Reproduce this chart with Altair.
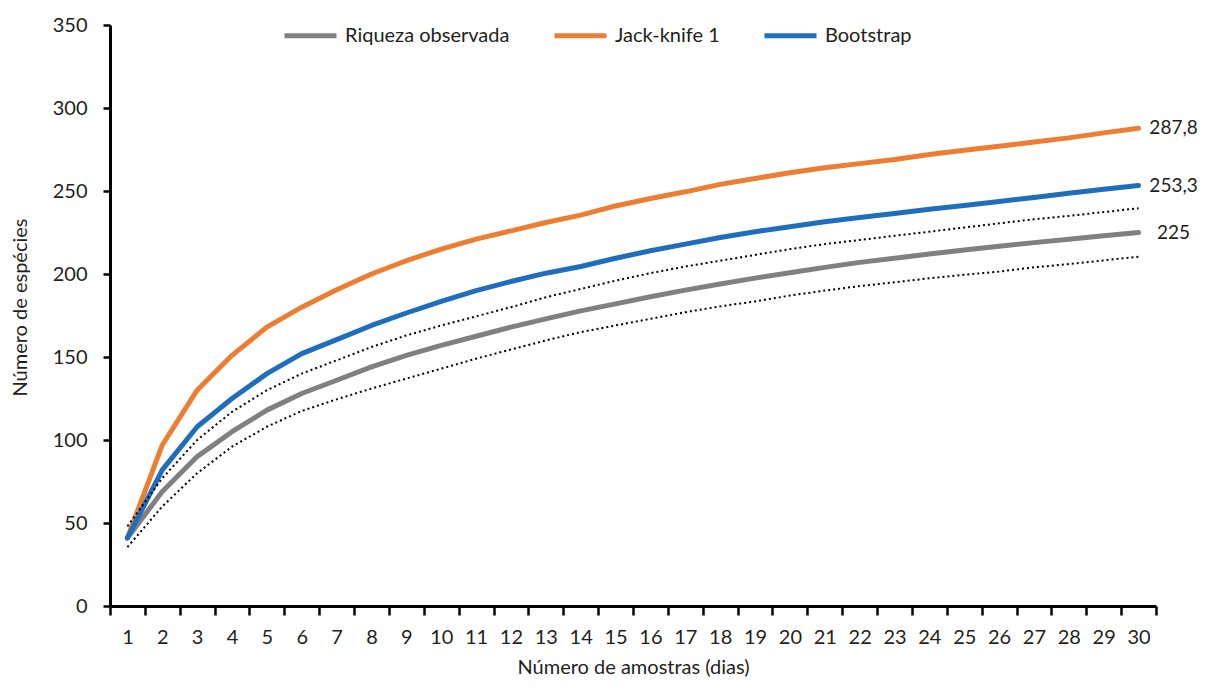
import altair as alt
import pandas as pd

# ---- data ----
dias = list(range(1, 31))
riqueza = [41, 69, 90, 105, 118, 128, 136, 144, 151, 157, 162.5, 168, 173, 177.8, 182,
           186.3, 190.3, 194, 197.5, 200.8, 204, 207, 209.5, 212, 214.5, 216.7, 218.9, 221, 223, 225]
jackknife = [41, 97, 130, 151, 168, 180, 190.5, 200, 208, 215, 221, 226, 231, 235.5, 241,
             245.5, 249.5, 254, 257.5, 261, 264, 266.5, 269, 272, 274.5, 277, 279.5, 282, 285, 287.8]
bootstrap = [41, 82, 108, 125, 140, 152, 160.5, 169, 176.5, 183.5, 190, 195.5, 200.5, 204.5, 209.5,
             214, 218, 222, 225.5, 228.5, 231.5, 234, 236.5, 239, 241.3, 243.7, 246.1, 248.6, 251, 253.3]
ic_superior = [48, 77, 100, 117, 130, 140, 148, 156, 163, 169, 174.5, 180, 186, 191, 196,
               200.5, 204.5, 208, 211.5, 215, 218, 220.5, 223, 225.5, 228, 230.5, 233, 235, 237.3, 239.6]
ic_inferior = [35.5, 60, 80, 96, 108, 117.5, 124.5, 131, 137, 143, 149, 154.5, 160, 165, 169,
               173, 177, 180.5, 183.5, 187, 190, 192.7, 195, 197.4, 199.5, 201.5, 204, 206, 208.2, 210.4]

series_names = ["Riqueza observada", "Jack-knife 1", "Bootstrap"]
series_colors = ["#808080", "#ED7D31", "#1F6EBD"]
series_values = [riqueza, jackknife, bootstrap]
end_labels = ["225", "287,8", "253,3"]

FONT = "Lato"
TXT = "#231F20"

rows = []
for name, vals in zip(series_names, series_values):
    for d, v in zip(dias, vals):
        rows.append({"dia": d, "valor": v, "serie": name})
df = pd.DataFrame(rows)

ci_rows = []
for lim, vals in (("sup", ic_superior), ("inf", ic_inferior)):
    for d, v in zip(dias, vals):
        ci_rows.append({"dia": d, "valor": v, "limite": lim})
df_ci = pd.DataFrame(ci_rows)

df_end = pd.DataFrame({
    "dia": [dias[-1]] * 3,
    "valor": [vals[-1] for vals in series_values],
    "label": end_labels,
})

x_enc = alt.X(
    "dia:Q",
    scale=alt.Scale(domain=[0.5, 30.5], nice=False, zero=False),
    axis=alt.Axis(
        values=[k - 0.5 for k in range(1, 32)],
        labelExpr="datum.value < 30 ? format(datum.value + 0.5, 'd') : ''",
        labelOffset=17.43,
        labelFlush=False,
        labelOverlap=False,
        grid=False,
        domainColor="black", domainWidth=3,
        tickColor="black", tickWidth=2.5, tickSize=9,
        labelFont=FONT, labelFontSize=20, labelColor=TXT, labelPadding=12,
        title="Número de amostras (dias)",
        titleFont=FONT, titleFontSize=20, titleFontWeight="normal", titleColor=TXT,
        titleX=523, titleY=61, titleBaseline="middle", titleAlign="center",
    ),
)

y_enc = alt.Y(
    "valor:Q",
    scale=alt.Scale(domain=[0, 350], nice=False),
    axis=alt.Axis(
        values=list(range(0, 351, 50)),
        grid=False,
        domainColor="black", domainWidth=3,
        tickColor="black", tickWidth=2.5, tickSize=7,
        labelFont=FONT, labelFontSize=20, labelColor=TXT, labelPadding=16,
        title="Número de espécies",
        titleFont=FONT, titleFontSize=20, titleFontWeight="normal", titleColor=TXT,
        titleX=-90, titleY=282, titleAngle=270, titleBaseline="middle", titleAlign="center",
    ),
)

color_enc = alt.Color(
    "serie:N",
    scale=alt.Scale(domain=series_names, range=series_colors),
    legend=alt.Legend(
        orient="none", legendX=172, legendY=-18, direction="horizontal",
        title=None, symbolType="stroke", symbolSize=2704, symbolStrokeWidth=5,
        labelFont=FONT, labelFontSize=20, labelColor=TXT, labelOffset=6,
        columnPadding=34, padding=0, labelLimit=400,
    ),
)

layers = []
for name in series_names:
    layers.append(
        alt.Chart(df).transform_filter(alt.datum.serie == name)
        .mark_line(strokeWidth=5, strokeCap="round", strokeJoin="round")
        .encode(x=x_enc, y=y_enc, color=color_enc)
    )

ci = alt.Chart(df_ci).mark_line(
    color="black", strokeWidth=2, strokeDash=[2, 3], strokeCap="butt"
).encode(x=x_enc, y=y_enc, detail="limite:N")

labels = alt.Chart(df_end).mark_text(
    align="center", baseline="middle", dx=35, font=FONT, fontSize=19, color=TXT
).encode(x=x_enc, y=y_enc, text="label:N")

chart = alt.layer(*layers, ci, labels).properties(
    width=1046, height=581,
    autosize=alt.AutoSizeParams(type="none"),
    padding={"left": 102, "top": 17, "right": 43, "bottom": 73},
).configure_view(stroke=None)

chart.save("out.html", embed_options={"renderer": "svg", "actions": False})
